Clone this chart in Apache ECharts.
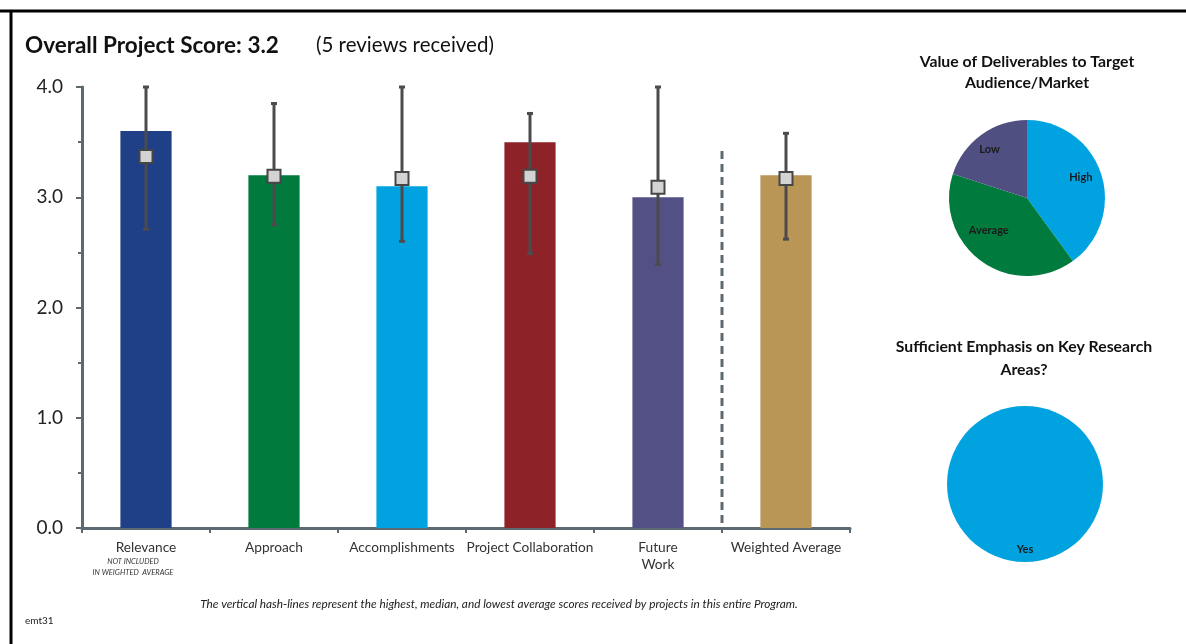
<!DOCTYPE html>
<html>
<head>
<meta charset="utf-8">
<script src="https://cdn.jsdelivr.net/npm/echarts@6/dist/echarts.min.js"></script>
<style>
html,body{margin:0;padding:0;background:#fff;}
#chart{width:1186px;height:644px;}
</style>
</head>
<body>
<div id="chart"></div>
<script>
// ---- data ----
const categories = ['Relevance', 'Approach', 'Accomplishments', 'Project Collaboration', 'Future\nWork', 'Weighted Average'];
const scores = [3.6, 3.2, 3.1, 3.5, 3.0, 3.2];
const programHigh = [4.0, 3.85, 4.0, 3.76, 4.0, 3.58];
const programMedian = [3.37, 3.19, 3.17, 3.19, 3.09, 3.17];
const programLow = [2.71, 2.75, 2.60, 2.49, 2.39, 2.62];
const barColors = ['#1f3f87', '#007a3d', '#00a3e0', '#8e2229', '#525085', '#b99556'];
const yTicks = [0, 1, 2, 3, 4];
const separatorTop = 3.42;           // top of the dashed separator (score units)
const separatorAfter = 4;            // separator sits after this category index

const deliverLabels = ['High', 'Average', 'Low'];
const deliverValues = [2, 2, 1];
const deliverColors = ['#00a3e0', '#007a3d', '#4f4f82'];

const emphasisLabels = ['Yes'];
const emphasisValues = [5];
const emphasisColors = ['#00a3e0'];

// ---- layout constants ----
const FONT = 'Lato, "Open Sans", sans-serif';
const AXIS = '#5d6970';
const pie1 = {cx: 1027, cy: 198, r: 78};
const pie2 = {cx: 1025, cy: 484, r: 78};
// label anchor positions, as fractions of radius relative to the centre
const pie1LabelPos = [[0.69, -0.26], [-0.49, 0.41], [-0.48, -0.62]];
const pie2LabelPos = [[0, 0.84]];

const chart = echarts.init(document.getElementById('chart'), null, {renderer: 'canvas'});

const errData = categories.map((c, i) => [i, programLow[i], programHigh[i], programMedian[i]]);

function errRender(params, api) {
  const x = api.value(0);
  const lo = api.coord([x, api.value(1)]);
  const hi = api.coord([x, api.value(2)]);
  const md = api.coord([x, api.value(3)]);
  const cap = 3;
  const ls = {stroke: '#4b4b4d', lineWidth: 3};
  return {
    type: 'group',
    children: [
      {type: 'line', shape: {x1: hi[0], y1: hi[1], x2: lo[0], y2: lo[1]}, style: ls},
      {type: 'line', shape: {x1: hi[0] - cap, y1: hi[1], x2: hi[0] + cap, y2: hi[1]}, style: ls},
      {type: 'line', shape: {x1: lo[0] - cap, y1: lo[1], x2: lo[0] + cap, y2: lo[1]}, style: ls},
      {type: 'rect', shape: {x: md[0] - 6.5, y: md[1] - 6.5, width: 13, height: 13},
       style: {fill: '#d3d3d3', stroke: '#464646', lineWidth: 2}}
    ]
  };
}

function sepRender(params, api) {
  const idx = api.value(0);
  const top = api.coord([idx, api.value(1)]);
  const bot = api.coord([idx, 0]);
  const half = api.size([1, 0])[0] / 2;
  const x = top[0] + half;
  return {
    type: 'line',
    shape: {x1: x, y1: top[1], x2: x, y2: bot[1] - 2},
    style: {stroke: AXIS, lineWidth: 3, lineDash: [8, 5]}
  };
}

function makeLayout(pie, pos) {
  return function (params) {
    const p = pos[params.dataIndex];
    return {
      x: pie.cx + p[0] * pie.r,
      y: pie.cy + p[1] * pie.r,
      align: 'center',
      verticalAlign: 'middle'
    };
  };
}

const option = {
  backgroundColor: '#ffffff',
  animation: false,
  textStyle: {fontFamily: FONT},
  title: [
    {text: 'Overall Project Score: 3.2', left: 25, top: 34, padding: 0,
     textStyle: {fontFamily: FONT, fontSize: 22.5, fontWeight: 'bold', color: '#111'}},
    {text: '(5 reviews received)', left: 316, top: 35, padding: 0,
     textStyle: {fontFamily: FONT, fontSize: 20.5, fontWeight: 'normal', color: '#111'}},
    {text: 'Value of Deliverables to Target\nAudience/Market', left: pie1.cx, top: 51, textAlign: 'center', padding: 0,
     textStyle: {fontFamily: FONT, fontSize: 15.8, fontWeight: 'bold', color: '#111', lineHeight: 21}},
    {text: 'Sufficient Emphasis on Key Research\nAreas?', left: pie2.cx - 1, top: 335, textAlign: 'center', padding: 0,
     textStyle: {fontFamily: FONT, fontSize: 15.8, fontWeight: 'bold', color: '#111', lineHeight: 23}},
    {text: 'The vertical hash-lines represent the highest, median, and lowest average scores received by projects in this entire Program.',
     left: 499, top: 598, textAlign: 'center', padding: 0,
     textStyle: {fontFamily: FONT, fontSize: 11.8, fontStyle: 'italic', fontWeight: 'normal', color: '#222'}},
    {text: 'emt31', left: 25, top: 616, padding: 0,
     textStyle: {fontFamily: FONT, fontSize: 10, fontWeight: 'normal', color: '#222'}}
  ],
  graphic: [
    {type: 'line', shape: {x1: 0, y1: 11, x2: 1186, y2: 11}, style: {stroke: '#000', lineWidth: 3}},
    {type: 'line', shape: {x1: 11, y1: 10, x2: 11, y2: 644}, style: {stroke: '#000', lineWidth: 3}}
  ],
  grid: {left: 82, right: 336, top: 87, bottom: 116, containLabel: false},
  xAxis: {
    type: 'category',
    data: categories,
    axisLine: {show: true, lineStyle: {color: AXIS, width: 3}},
    axisTick: {show: true, length: 5, interval: 0, lineStyle: {color: AXIS, width: 2}},
    axisLabel: {
      interval: 0, margin: 11, color: '#333', fontSize: 13.7, fontFamily: FONT, lineHeight: 17,
      formatter: function (v, i) {
        if (i === 0) return v + '\n{n|NOT INCLUDED}\n{n|IN WEIGHTED  AVERAGE}';
        return v;
      },
      rich: {
        n: {fontSize: 7.5, fontStyle: 'italic', color: '#333', lineHeight: 11, padding: [0, 26, 0, 0], fontFamily: FONT}
      }
    }
  },
  yAxis: {
    type: 'value',
    min: 0, max: 4, interval: 1,
    axisLine: {show: true, lineStyle: {color: AXIS, width: 3}},
    axisTick: {show: true, length: 6, lineStyle: {color: AXIS, width: 2}},
    minorTick: {show: true, splitNumber: 2, length: 4, lineStyle: {color: AXIS, width: 2}},
    splitLine: {show: false},
    axisLabel: {
      margin: 19, fontSize: 19, color: '#222', fontFamily: FONT,
      formatter: v => yTicks.includes(v) ? v.toFixed(1) : ''
    }
  },
  series: [
    {
      type: 'bar',
      barWidth: '40%',
      silent: true,
      data: scores.map((v, i) => ({value: v, itemStyle: {color: barColors[i]}}))
    },
    {
      type: 'custom',
      silent: true,
      renderItem: errRender,
      encode: {x: 0, y: [1, 2, 3]},
      data: errData,
      z: 5
    },
    {
      type: 'custom',
      silent: true,
      renderItem: sepRender,
      encode: {x: 0, y: 1},
      data: [[separatorAfter, separatorTop]],
      z: 4
    },
    {
      type: 'pie',
      silent: true,
      center: [pie1.cx, pie1.cy],
      radius: pie1.r,
      startAngle: 90,
      clockwise: true,
      label: {show: true, position: 'inside', fontSize: 11, fontWeight: 'bold', color: '#1a1a1a', fontFamily: FONT, formatter: '{b}'},
      labelLine: {show: false},
      labelLayout: makeLayout(pie1, pie1LabelPos),
      itemStyle: {borderWidth: 0},
      emphasis: {disabled: true},
      data: deliverLabels.map((n, i) => ({name: n, value: deliverValues[i], itemStyle: {color: deliverColors[i]}}))
    },
    {
      type: 'pie',
      silent: true,
      center: [pie2.cx, pie2.cy],
      radius: pie2.r,
      startAngle: 90,
      clockwise: true,
      label: {show: true, position: 'inside', fontSize: 11, fontWeight: 'bold', color: '#1a1a1a', fontFamily: FONT, formatter: '{b}'},
      labelLine: {show: false},
      labelLayout: makeLayout(pie2, pie2LabelPos),
      itemStyle: {borderWidth: 0},
      emphasis: {disabled: true},
      data: emphasisLabels.map((n, i) => ({name: n, value: emphasisValues[i], itemStyle: {color: emphasisColors[i]}}))
    }
  ]
};

chart.setOption(option);
</script>
</body>
</html>
